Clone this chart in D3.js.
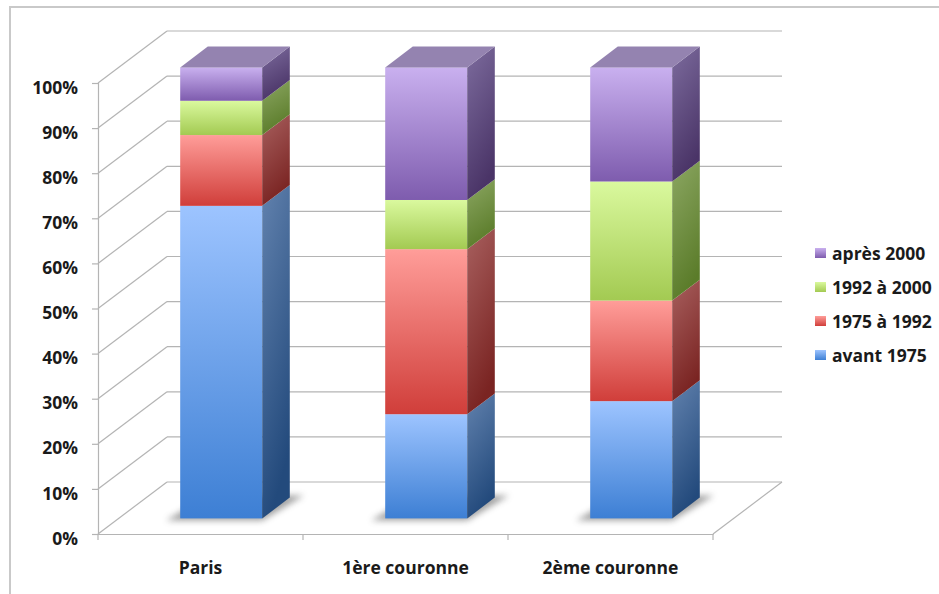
<!DOCTYPE html>
<html>
<head>
<meta charset="utf-8">
<script src="https://cdn.jsdelivr.net/npm/d3@7"></script>
<style>
  html, body { margin: 0; padding: 0; background: #fff; }
  svg { display: block; }
  text { font-family: "Open Sans", Lato, sans-serif; font-weight: 700; fill: #1a1a1a; }
</style>
</head>
<body>
<svg id="chart" width="939" height="594"></svg>
<script>
// Housing stock by construction period, share per zone (%)
const categories = ["Paris", "1ère couronne", "2ème couronne"];
const seriesNames = ["avant 1975", "1975 à 1992", "1992 à 2000", "après 2000"];
const avant1975   = [69.3, 23.1, 26.0];
const de1975a1992 = [15.7, 36.6, 22.3];
const de1992a2000 = [7.6, 10.9, 26.4];
const apres2000   = [7.4, 29.4, 25.3];
const yTicks = [0, 10, 20, 30, 40, 50, 60, 70, 80, 90, 100];

const seriesValues = [avant1975, de1975a1992, de1992a2000, apres2000];
const rows = categories.map((c, i) => {
  const r = { cat: c };
  seriesNames.forEach((s, k) => { r[s] = seriesValues[k][i]; });
  return r;
});

// colour ramps: front face top/bottom, side face top/bottom, top face
const palette = {
  "avant 1975":  { ft: "#9dc4ff", fb: "#3d7fd4", st: "#6282ae", sb: "#234a7c", tp: "#6f8fc0" },
  "1975 à 1992": { ft: "#ff9d99", fb: "#d03e3a", st: "#a8605f", sb: "#7a2422", tp: "#c07070" },
  "1992 à 2000": { ft: "#daf99e", fb: "#a3ca52", st: "#8ca763", sb: "#5b7c2a", tp: "#9ab66a" },
  "après 2000":  { ft: "#c9b0ef", fb: "#7e5cae", st: "#7d6c9e", sb: "#4a3467", tp: "#9483b0" }
};

const FONT = "'Open Sans', Lato, sans-serif";
const svg = d3.select("#chart");
const defs = svg.append("defs");

// frame
svg.append("rect")
  .attr("x", 10).attr("y", 7).attr("width", 960).attr("height", 620)
  .attr("fill", "none").attr("stroke", "#c9c9c9").attr("stroke-width", 2);

// 3D projection: front plane -> back plane offset
const depthX = 69, depthY = 52;
const y = d3.scaleLinear().domain([0, 100]).range([534, 83]);
const x = d3.scaleBand().domain(categories).range([98, 713]).paddingInner(0).paddingOuter(0);
const barFrac = 0.40;
const fFront = 0.30, fBack = 0.70;

const grid = svg.append("g").attr("fill", "none").attr("stroke", "#b4b4b4").attr("stroke-width", 1.2);
const x0 = x.range()[0], x1 = x.range()[1];

// back wall gridlines
grid.selectAll("line.back").data(yTicks).join("line")
  .attr("x1", x0 + depthX).attr("x2", x1 + depthX)
  .attr("y1", d => y(d) - depthY).attr("y2", d => y(d) - depthY);
// side wall diagonals
grid.selectAll("line.side").data(yTicks).join("line")
  .attr("x1", x0).attr("x2", x0 + depthX)
  .attr("y1", d => y(d)).attr("y2", d => y(d) - depthY);
// floor right edge
grid.append("line")
  .attr("x1", x1).attr("y1", y(0)).attr("x2", x1 + depthX).attr("y2", y(0) - depthY);

// y axis on the front plane
const yAxis = d3.axisLeft(y).tickValues(yTicks).tickSize(6).tickPadding(14)
  .tickFormat(d => d + "%");
const gy = svg.append("g").attr("transform", `translate(${x0},0)`).call(yAxis);
gy.select(".domain").attr("stroke", "#b4b4b4").attr("stroke-width", 1.2);
gy.selectAll(".tick line").attr("stroke", "#b4b4b4").attr("stroke-width", 1.2);
gy.selectAll(".tick text").attr("font-size", 17.5).attr("dy", "0.58em")
  .style("font-family", FONT).style("font-weight", 700).attr("fill", "#1a1a1a");

// x axis on the front plane, ticks at category boundaries
const xAxis = d3.axisBottom(x).tickSize(0).tickPadding(28);
const gx = svg.append("g").attr("transform", `translate(0,${y(0)})`).call(xAxis);
gx.select(".domain").attr("stroke", "#b4b4b4").attr("stroke-width", 1.2);
gx.selectAll(".tick text").attr("font-size", 17.5)
  .style("font-family", FONT).style("font-weight", 700).attr("fill", "#1a1a1a");
const bounds = categories.map(c => x(c)).concat([x1]);
gx.selectAll("line.sep").data(bounds).join("line")
  .attr("x1", d => d).attr("x2", d => d).attr("y1", 0).attr("y2", 6)
  .attr("stroke", "#b4b4b4").attr("stroke-width", 1.2);

// gradients
seriesNames.forEach((s, k) => {
  const p = palette[s];
  const gf = defs.append("linearGradient").attr("id", "front" + k)
    .attr("x1", 0).attr("y1", 0).attr("x2", 0).attr("y2", 1);
  gf.append("stop").attr("offset", "0%").attr("stop-color", p.ft);
  gf.append("stop").attr("offset", "100%").attr("stop-color", p.fb);
  const gs = defs.append("linearGradient").attr("id", "side" + k)
    .attr("x1", 0).attr("y1", 0).attr("x2", 0.3).attr("y2", 1);
  gs.append("stop").attr("offset", "0%").attr("stop-color", p.st);
  gs.append("stop").attr("offset", "100%").attr("stop-color", p.sb);
});

const blur = defs.append("filter").attr("id", "soft").attr("x", "-50%").attr("y", "-50%")
  .attr("width", "200%").attr("height", "200%");
blur.append("feGaussianBlur").attr("stdDeviation", 3);

const stacked = d3.stack().keys(seriesNames)(rows);

const fx = depthX * fFront, fy = depthY * fFront;
const bdx = depthX * (fBack - fFront), bdy = depthY * (fBack - fFront);
const bw = x.bandwidth() * barFrac;
const barLeft = c => x(c) + (x.bandwidth() - bw) / 2 + fx;

// floor shadows under the bars
svg.append("g").selectAll("polygon").data(categories).join("polygon")
  .attr("points", c => {
    const L = barLeft(c), R = L + bw, b = y(0) - fy;
    return [[L - 14, b + 2], [R, b + 2], [R + bdx + 14, b - bdy - 2], [L + bdx, b - bdy - 2]]
      .map(p => p.join(",")).join(" ");
  })
  .attr("fill", "#555").attr("opacity", 0.55).attr("filter", "url(#soft)");

const bars = svg.append("g");
stacked.forEach((layer, k) => {
  const g = bars.append("g");
  layer.forEach((d, i) => {
    const c = categories[i];
    const L = barLeft(c), R = L + bw;
    const yt = y(d[1]) - fy, yb = y(d[0]) - fy;
    g.append("rect").attr("x", L).attr("y", yt).attr("width", bw).attr("height", yb - yt)
      .attr("fill", `url(#front${k})`);
    g.append("polygon")
      .attr("points", [[R, yt], [R + bdx, yt - bdy], [R + bdx, yb - bdy], [R, yb]].map(p => p.join(",")).join(" "))
      .attr("fill", `url(#side${k})`);
    if (k === seriesNames.length - 1) {
      g.append("polygon")
        .attr("points", [[L, yt], [L + bdx, yt - bdy], [R + bdx, yt - bdy], [R, yt]].map(p => p.join(",")).join(" "))
        .attr("fill", palette[seriesNames[k]].tp);
    }
  });
});

// legend, latest period on top
const legend = svg.append("g").attr("transform", "translate(815,248)");
const legendOrder = seriesNames.slice().reverse();
const li = legend.selectAll("g").data(legendOrder).join("g")
  .attr("transform", (d, i) => `translate(0,${i * 34})`);
li.append("rect").attr("width", 11).attr("height", 10)
  .attr("fill", d => `url(#front${seriesNames.indexOf(d)})`);
li.append("text").attr("x", 17).attr("y", 11.5).attr("font-size", 17.5).text(d => d);
</script>
</body>
</html>
